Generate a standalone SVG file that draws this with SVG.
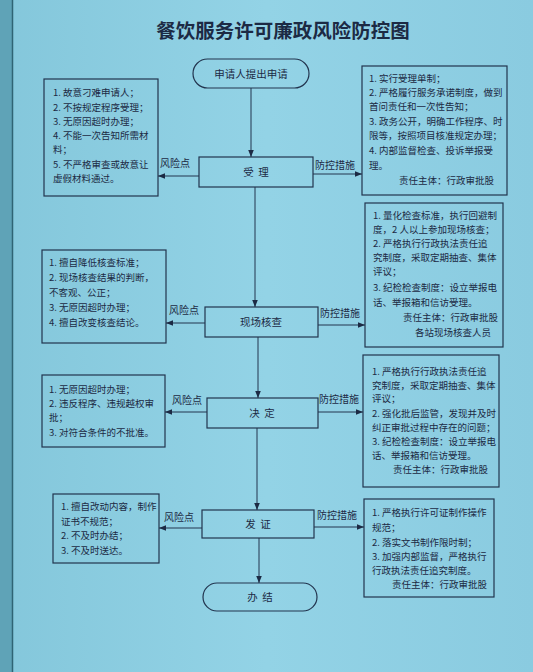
<svg xmlns="http://www.w3.org/2000/svg" width="533" height="672" viewBox="0 0 533 672">
<style>
text{font-family:"Noto Sans CJK SC","Noto Sans",sans-serif;fill:#1c2a44}
.t{font-size:9.5px}
.lb{font-size:10px}
.nd{font-size:10.5px;text-anchor:middle}
.box{fill:none;stroke:#22344e;stroke-width:1.2}
.ln{fill:none;stroke:#22344e;stroke-width:1}
</style>
<defs>
<marker id="ar" viewBox="0 0 10 10" refX="10" refY="5" markerWidth="7" markerHeight="7" orient="auto" markerUnits="userSpaceOnUse">
<path d="M0,1 L10,5 L0,9 z" fill="#1c2a44"/>
</marker>
<linearGradient id="bg" x1="0" y1="0" x2="1" y2="0">
<stop offset="0" stop-color="#84c7db"/>
<stop offset="0.5" stop-color="#93d3e6"/>
<stop offset="1" stop-color="#8acbe0"/>
</linearGradient>
</defs>
<rect x="0" y="0" width="533" height="672" fill="url(#bg)"/>
<rect x="0" y="0" width="12" height="672" fill="#5fa3b7"/>
<line x1="12.5" y1="0" x2="12.5" y2="672" stroke="#2f6474" stroke-width="1.5"/>

<text x="283" y="38" font-size="19.5" font-weight="bold" text-anchor="middle">餐饮服务许可廉政风险防控图</text>

<g id="connectors">
<line class="ln" x1="251" y1="88" x2="251" y2="157" marker-end="url(#ar)"/>
<line class="ln" x1="255" y1="187" x2="255" y2="307" marker-end="url(#ar)"/>
<line class="ln" x1="258" y1="337" x2="258" y2="398" marker-end="url(#ar)"/>
<line class="ln" x1="257" y1="428" x2="257" y2="510" marker-end="url(#ar)"/>
<line class="ln" x1="259" y1="538" x2="259" y2="583" marker-end="url(#ar)"/>
<line class="ln" x1="313" y1="174" x2="362" y2="174" marker-end="url(#ar)"/>
<line class="ln" x1="199" y1="176" x2="158" y2="176" marker-end="url(#ar)"/>
<line class="ln" x1="318" y1="325" x2="365" y2="325" marker-end="url(#ar)"/>
<line class="ln" x1="205" y1="323" x2="166" y2="323" marker-end="url(#ar)"/>
<line class="ln" x1="318" y1="412" x2="363" y2="412" marker-end="url(#ar)"/>
<line class="ln" x1="207" y1="412" x2="165" y2="412" marker-end="url(#ar)"/>
<line class="ln" x1="314" y1="527" x2="364" y2="527" marker-end="url(#ar)"/>
<line class="ln" x1="202" y1="528" x2="159" y2="528" marker-end="url(#ar)"/>
<text class="lb" x="160" y="167">风险点</text>
<text class="lb" x="169" y="314">风险点</text>
<text class="lb" x="172" y="404">风险点</text>
<text class="lb" x="164" y="521">风险点</text>
<text class="lb" x="315" y="169">防控措施</text>
<text class="lb" x="320" y="317">防控措施</text>
<text class="lb" x="319" y="403">防控措施</text>
<text class="lb" x="317" y="519">防控措施</text>
</g>

<g id="start">
<rect class="box" x="193" y="59" width="116" height="29" rx="14.5"/>
<text class="nd" x="251" y="78">申请人提出申请</text>
</g>
<g id="accept">
<rect class="box" x="199" y="157" width="114" height="30"/>
<text class="nd" x="256" y="176" xml:space="preserve">受  理</text>
</g>
<g id="inspect">
<rect class="box" x="205" y="307" width="113" height="30"/>
<text class="nd" x="261" y="326">现场核查</text>
</g>
<g id="decide">
<rect class="box" x="207" y="398" width="111" height="30"/>
<text class="nd" x="262" y="417" xml:space="preserve">决  定</text>
</g>
<g id="issue">
<rect class="box" x="202" y="510" width="112" height="28"/>
<text class="nd" x="258" y="528" xml:space="preserve">发  证</text>
</g>
<g id="end">
<rect class="box" x="203" y="583" width="114" height="28" rx="14"/>
<text class="nd" x="260" y="601" xml:space="preserve">办  结</text>
</g>

<g id="risk1">
<rect class="box" x="44" y="79" width="114" height="117"/>
<text class="t" x="53" y="96">1. 故意刁难申请人；</text>
<text class="t" x="53" y="111">2. 不按规定程序受理；</text>
<text class="t" x="53" y="125">3. 无原因超时办理；</text>
<text class="t" x="53" y="139">4. 不能一次告知所需材</text>
<text class="t" x="53" y="153">料；</text>
<text class="t" x="53" y="168">5. 不严格审查或故意让</text>
<text class="t" x="53" y="182">虚假材料通过。</text>
</g>
<g id="ctrl1">
<rect class="box" x="362" y="66" width="145" height="129"/>
<text class="t" x="369" y="82">1. 实行受理单制；</text>
<text class="t" x="369" y="96">2. 严格履行服务承诺制度，做到</text>
<text class="t" x="369" y="110">首问责任和一次性告知；</text>
<text class="t" x="369" y="125">3. 政务公开，明确工作程序、时</text>
<text class="t" x="369" y="139">限等，按照项目核准规定办理；</text>
<text class="t" x="369" y="154">4. 内部监督检查、投诉举报受</text>
<text class="t" x="369" y="169">理。</text>
<text class="t" x="399" y="184">责任主体：行政审批股</text>
</g>
<g id="risk2">
<rect class="box" x="42" y="250" width="124" height="93"/>
<text class="t" x="49" y="266">1. 擅自降低核查标准；</text>
<text class="t" x="49" y="281">2. 现场核查结果的判断，</text>
<text class="t" x="49" y="296">不客观、公正；</text>
<text class="t" x="49" y="311">3. 无原因超时办理；</text>
<text class="t" x="49" y="326">4. 擅自改变核查结论。</text>
</g>
<g id="ctrl2">
<rect class="box" x="365" y="203" width="138" height="144"/>
<text class="t" x="373" y="219">1. 量化检查标准，执行回避制</text>
<text class="t" x="373" y="233">度，2 人以上参加现场核查；</text>
<text class="t" x="373" y="247">2. 严格执行行政执法责任追</text>
<text class="t" x="373" y="261">究制度，采取定期抽查、集体</text>
<text class="t" x="373" y="275">评议；</text>
<text class="t" x="373" y="291">3. 纪检检查制度：设立举报电</text>
<text class="t" x="373" y="306">话、举报箱和信访受理。</text>
<text class="t" x="403" y="321">责任主体：行政审批股</text>
<text class="t" x="415" y="336">各站现场核查人员</text>
</g>
<g id="risk3">
<rect class="box" x="42" y="375" width="123" height="72"/>
<text class="t" x="49" y="393">1. 无原因超时办理；</text>
<text class="t" x="49" y="407">2. 违反程序、违规越权审</text>
<text class="t" x="49" y="421">批；</text>
<text class="t" x="49" y="436">3. 对符合条件的不批准。</text>
</g>
<g id="ctrl3">
<rect class="box" x="363" y="355" width="136" height="132"/>
<text class="t" x="372" y="375">1. 严格执行行政执法责任追</text>
<text class="t" x="372" y="389">究制度，采取定期抽查、集体</text>
<text class="t" x="372" y="402">评议；</text>
<text class="t" x="372" y="417">2. 强化批后监管，发现并及时</text>
<text class="t" x="372" y="431">纠正审批过程中存在的问题；</text>
<text class="t" x="372" y="445">3. 纪检检查制度：设立举报电</text>
<text class="t" x="372" y="459">话、举报箱和信访受理。</text>
<text class="t" x="393" y="473">责任主体：行政审批股</text>
</g>
<g id="risk4">
<rect class="box" x="53" y="494" width="106" height="69"/>
<text class="t" x="61" y="510">1. 擅自改动内容，制作</text>
<text class="t" x="61" y="525">证书不规范；</text>
<text class="t" x="61" y="539">2. 不及时办结；</text>
<text class="t" x="61" y="554">3. 不及时送达。</text>
</g>
<g id="ctrl4">
<rect class="box" x="364" y="499" width="130" height="98"/>
<text class="t" x="372" y="516">1. 严格执行许可证制作操作</text>
<text class="t" x="372" y="531">规范；</text>
<text class="t" x="372" y="546">2. 落实文书制作限时制；</text>
<text class="t" x="372" y="560">3. 加强内部监督，严格执行</text>
<text class="t" x="372" y="574">行政执法责任追究制度。</text>
<text class="t" x="392" y="588">责任主体：行政审批股</text>
</g>
</svg>
